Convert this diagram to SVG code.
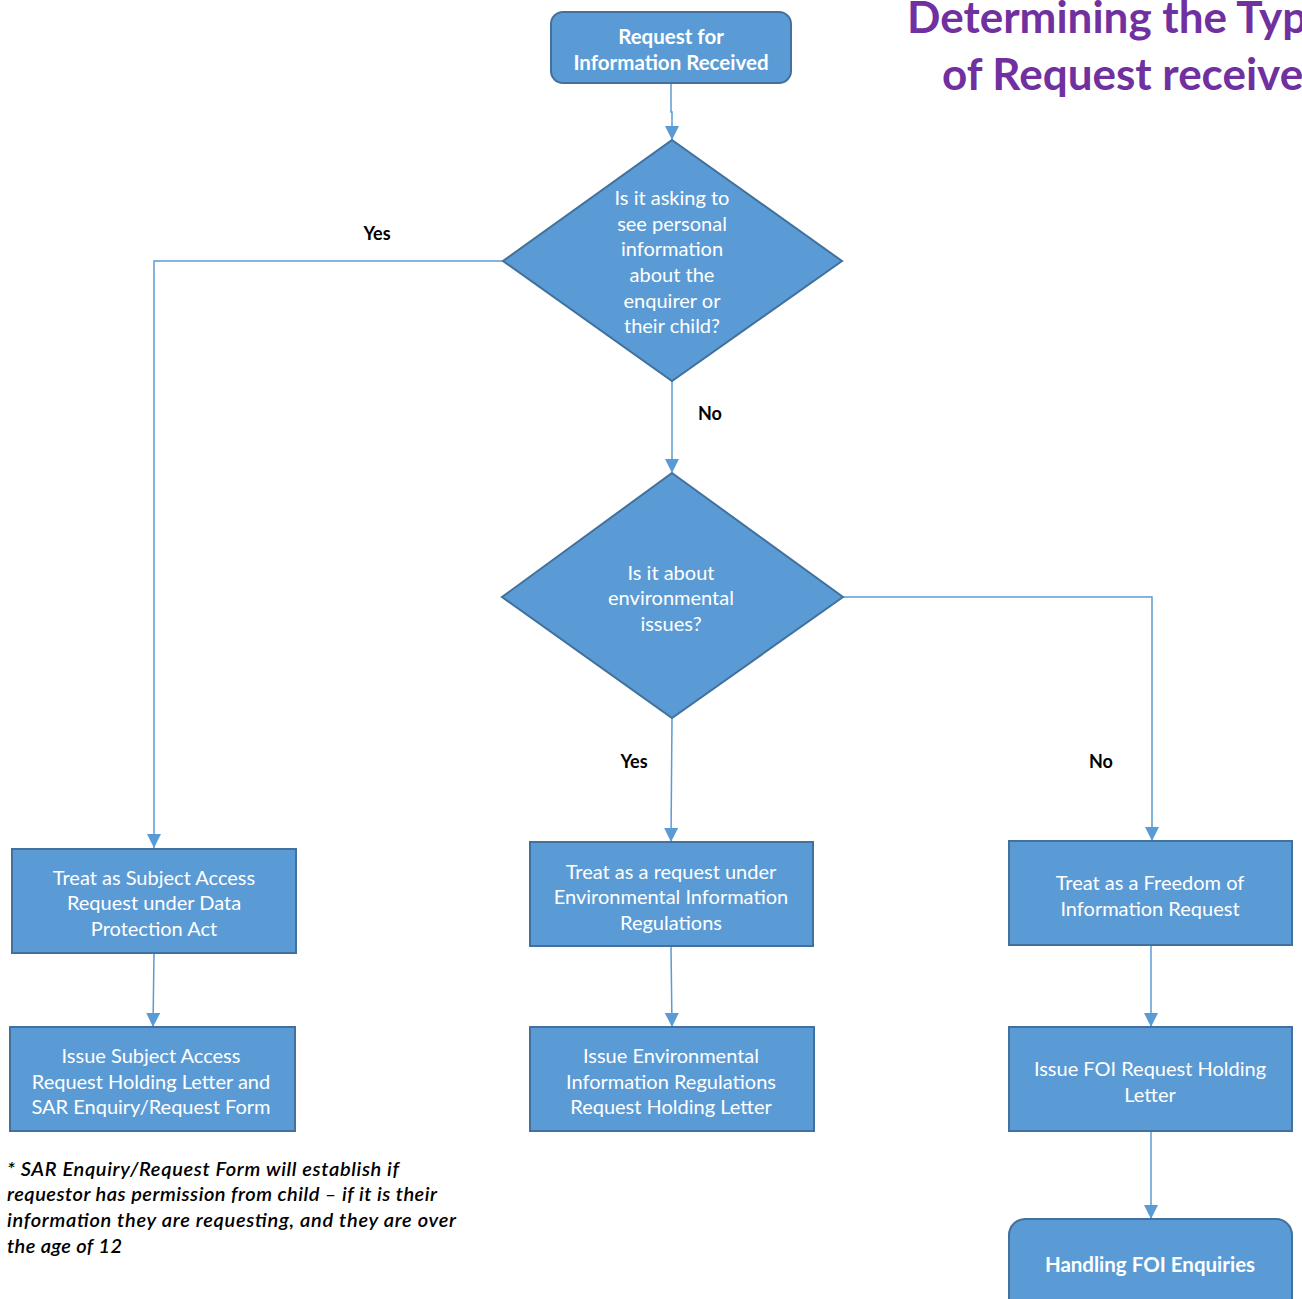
<svg xmlns="http://www.w3.org/2000/svg" width="1302" height="1299" viewBox="0 0 1302 1299">
<style>
.node{fill:#5b9bd5;stroke:#41719c;stroke-width:2}
.t{font-family:Lato,"Open Sans","Liberation Sans",sans-serif;font-size:20px;fill:#ffffff;text-anchor:middle;dominant-baseline:central}
.b{font-weight:bold;font-size:20.5px}
.conn{fill:none;stroke:#5b9bd5;stroke-width:1.5}
.lbl{font-family:Lato,"Open Sans","Liberation Sans",sans-serif;font-size:18px;font-weight:bold;fill:#000;text-anchor:middle;dominant-baseline:central}
.title{font-family:Lato,"Open Sans","Liberation Sans",sans-serif;font-size:44px;font-weight:bold;fill:#7030a0}
.note{font-family:Lato,"Open Sans","Liberation Sans",sans-serif;font-size:20px;font-weight:600;font-style:italic;fill:#000;dominant-baseline:central}
</style>
<defs>
<marker id="ah2" viewBox="0 0 14 14" refX="14" refY="7" markerWidth="14" markerHeight="14" markerUnits="userSpaceOnUse" orient="auto">
<path d="M0,0 L14,7 L0,14 Z" fill="#5b9bd5"/>
</marker>
</defs>
<rect width="1302" height="1299" fill="#ffffff"/>
<g id="title">
<text class="title" x="907" y="33">Determining the Type</text>
<text class="title" x="942" y="90">of Request received</text>
</g>
<g id="connectors">
<path class="conn" d="M671,83 L671,112 L672,112 L672,140" marker-end="url(#ah2)"/>
<path class="conn" d="M503,261 L154,261 L154,848" marker-end="url(#ah2)"/>
<path class="conn" d="M672,381 L672,473" marker-end="url(#ah2)"/>
<path class="conn" d="M672,718 L671,842" marker-end="url(#ah2)"/>
<path class="conn" d="M843,597 L1152,597 L1152,841" marker-end="url(#ah2)"/>
<path class="conn" d="M154,953 L153,1027" marker-end="url(#ah2)"/>
<path class="conn" d="M671,946 L672,1027" marker-end="url(#ah2)"/>
<path class="conn" d="M1151,945 L1151,1027" marker-end="url(#ah2)"/>
<path class="conn" d="M1151,1131 L1151,1219" marker-end="url(#ah2)"/>
<text class="lbl" x="377" y="233">Yes</text>
<text class="lbl" x="710" y="413">No</text>
<text class="lbl" x="634" y="761">Yes</text>
<text class="lbl" x="1101" y="761">No</text>
</g>
<g id="start">
<rect class="node" x="551" y="12" width="240" height="71" rx="12"/>
<text class="t b" x="671" y="36">Request for</text>
<text class="t b" x="671" y="62">Information Received</text>
</g>
<g id="q1">
<polygon class="node" points="672,140 842,261 672,381 503,261"/>
<text class="t" x="672" y="197">Is it asking to</text>
<text class="t" x="672" y="223">see personal</text>
<text class="t" x="672" y="248">information</text>
<text class="t" x="672" y="274">about the</text>
<text class="t" x="672" y="300">enquirer or</text>
<text class="t" x="672" y="325">their child?</text>
</g>
<g id="q2">
<polygon class="node" points="672,473 843,597 672,718 502,597"/>
<text class="t" x="671" y="572">Is it about</text>
<text class="t" x="671" y="597">environmental</text>
<text class="t" x="671" y="623">issues?</text>
</g>
<g id="sar">
<rect class="node" x="12" y="849" width="284" height="104"/>
<text class="t" x="154" y="877">Treat as Subject Access</text>
<text class="t" x="154" y="902">Request under Data</text>
<text class="t" x="154" y="928">Protection Act</text>
</g>
<g id="eir">
<rect class="node" x="530" y="842" width="283" height="104"/>
<text class="t" x="671" y="871">Treat as a request under</text>
<text class="t" x="671" y="896">Environmental Information</text>
<text class="t" x="671" y="922">Regulations</text>
</g>
<g id="foi">
<rect class="node" x="1009" y="841" width="283" height="104"/>
<text class="t" x="1150" y="882">Treat as a Freedom of</text>
<text class="t" x="1150" y="908">Information Request</text>
</g>
<g id="issue-sar">
<rect class="node" x="10" y="1027" width="285" height="104"/>
<text class="t" x="151" y="1055">Issue Subject Access</text>
<text class="t" x="151" y="1081">Request Holding Letter and</text>
<text class="t" x="151" y="1106">SAR Enquiry/Request Form</text>
</g>
<g id="issue-eir">
<rect class="node" x="530" y="1027" width="284" height="104"/>
<text class="t" x="671" y="1055">Issue Environmental</text>
<text class="t" x="671" y="1081">Information Regulations</text>
<text class="t" x="671" y="1106">Request Holding Letter</text>
</g>
<g id="issue-foi">
<rect class="node" x="1009" y="1027" width="283" height="104"/>
<text class="t" x="1150" y="1068">Issue FOI Request Holding</text>
<text class="t" x="1150" y="1094">Letter</text>
</g>
<g id="handling-foi">
<rect class="node" x="1009" y="1219" width="283" height="100" rx="16"/>
<text class="t b" x="1150" y="1264">Handling FOI Enquiries</text>
</g>
<g id="footnote">
<text class="note" x="7" y="1168" textLength="392" lengthAdjust="spacing">* SAR Enquiry/Request Form will establish if</text>
<text class="note" x="7" y="1193" textLength="430" lengthAdjust="spacing">requestor has permission from child – if it is their</text>
<text class="note" x="7" y="1219" textLength="449" lengthAdjust="spacing">information they are requesting, and they are over</text>
<text class="note" x="7" y="1245" textLength="115" lengthAdjust="spacing">the age of 12</text>
</g>
</svg>
